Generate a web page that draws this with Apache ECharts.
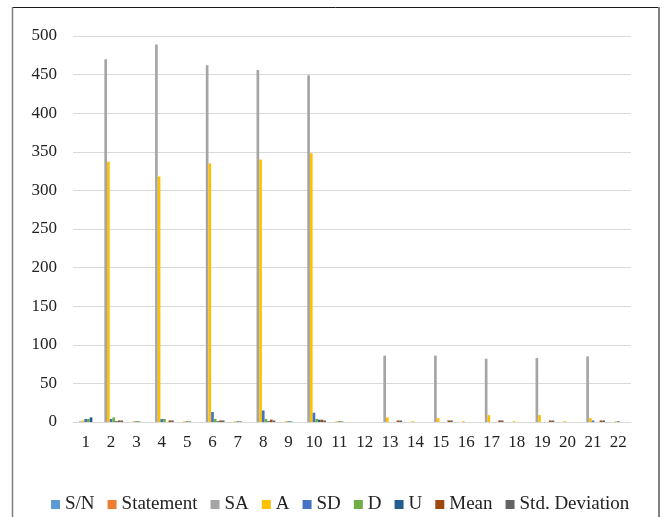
<!DOCTYPE html>
<html>
<head>
<meta charset="utf-8">
<script src="https://cdn.jsdelivr.net/npm/echarts@6/dist/echarts.min.js"></script>
<style>
html,body{margin:0;padding:0;background:#fff;}
#chart{width:662px;height:517px;}
</style>
</head>
<body>
<div id="chart"></div>
<script>
const categories = ['1','2','3','4','5','6','7','8','9','10','11','12','13','14','15','16','17','18','19','20','21','22'];
const seriesNames = ['S/N','Statement','SA','A','SD','D','U','Mean','Std. Deviation'];
const sn        = [0,0,0,0,0,0,0,0,0,0,0,0,0,0,0,0,0,0,0,0,0,0];
const statement = [0,0,0,0,0,0,0,0,0,0,0,0,0,0,0,0,0,0,0,0,0,0];
const sa        = [1,470,0,489,0,462,0,456,0,449,0,0,86,0,86,0,82,0,83,0,85,0];
const a         = [2,337,1,318,1,335,1,340,1,348,1,0,6,1,5,1,9,1,9,1,5,1];
const sd        = [4,4,1,4,1,13,1,15,1,12,1,0,0,0,0,0,0,0,0,0,2,1];
const d         = [4,6,1,4,1,4,1,4,1,4,1,0,0,0,0,0,0,0,0,0,0,0];
const u         = [6,1,0,0,0,1,0,1,0,3,0,0,0,0,0,0,0,0,0,0,0,0];
const mean      = [0,2,0,2,0,2,0,3,0,3,0,0,2,0,2,0,2,0,2,0,2,0];
const stdDev    = [0,2,0,2,0,2,0,2,0,2,0,0,2,0,2,0,2,0,2,0,2,0];
const yTicks = {min: 0, max: 500, interval: 50};

const colors = ['#5B9BD5','#ED7D31','#A5A5A5','#FFC000','#4472C4','#70AD47','#255E91','#9E480E','#636363'];
const dataSets = [sn, statement, sa, a, sd, d, u, mean, stdDev];
const font = 'Liberation Serif, Times New Roman, serif';

const chart = echarts.init(document.getElementById('chart'));
chart.setOption({
  animation: false,
  color: colors,
  grid: {left: 73, right: 31, top: 36, bottom: 95},
  graphic: [
    {type: 'line', shape: {x1: 12, y1: 7.5, x2: 659, y2: 7.5}, style: {stroke: '#1a1a1a', lineWidth: 1}},
    {type: 'line', shape: {x1: 12.5, y1: 7, x2: 12.5, y2: 517}, style: {stroke: '#808080', lineWidth: 1.5}},
    {type: 'line', shape: {x1: 659, y1: 7, x2: 659, y2: 517}, style: {stroke: '#808080', lineWidth: 2}}
  ],
  legend: {
    top: 490,
    left: 46,
    itemWidth: 9,
    itemHeight: 9,
    itemGap: 13,
    icon: 'rect',
    textStyle: {fontFamily: font, fontSize: 19, color: '#222'},
    data: seriesNames
  },
  xAxis: {
    type: 'category',
    data: categories,
    axisTick: {show: false},
    axisLine: {lineStyle: {color: '#d9d9d9', width: 1}},
    axisLabel: {fontFamily: font, fontSize: 17, color: '#222', margin: 12, interval: 0}
  },
  yAxis: {
    type: 'value',
    min: yTicks.min, max: yTicks.max, interval: yTicks.interval,
    axisLine: {show: false},
    axisTick: {show: false},
    splitLine: {lineStyle: {color: '#d9d9d9', width: 1}},
    axisLabel: {fontFamily: font, fontSize: 17, color: '#222', margin: 16}
  },
  series: seriesNames.map((n, i) => ({
    name: n,
    type: 'bar',
    data: dataSets[i],
    barGap: '0%',
    barCategoryGap: '5%'
  }))
});
</script>
</body>
</html>
